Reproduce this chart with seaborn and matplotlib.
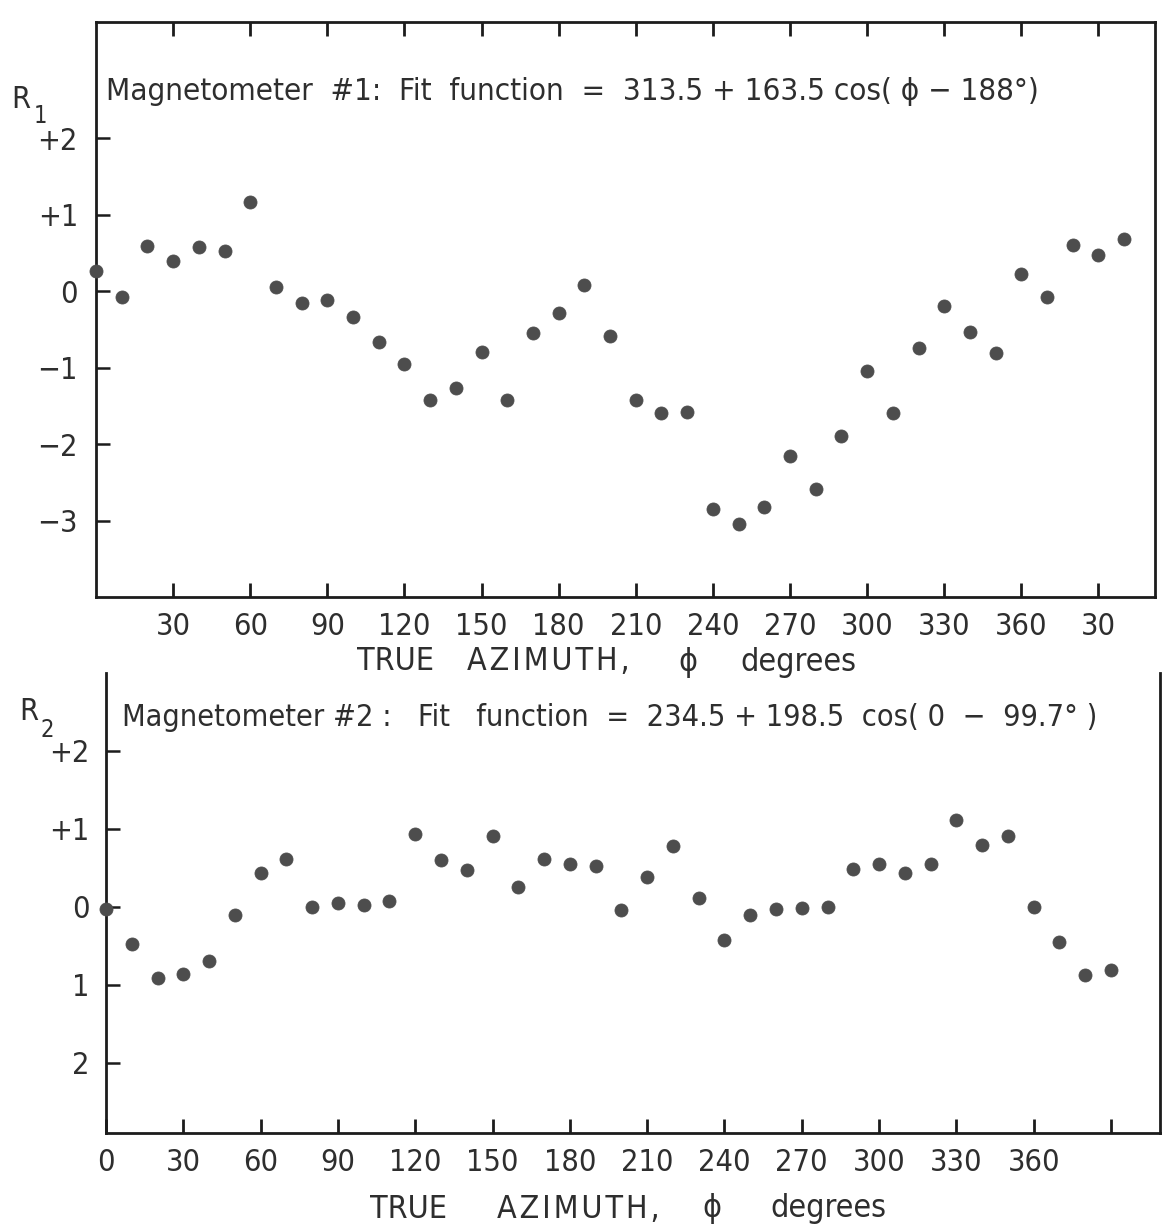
import numpy as np
import pandas as pd
import matplotlib
matplotlib.use("Agg")
import matplotlib.pyplot as plt
import seaborn as sns

# Magnetometer #1 residuals vs true azimuth (scan wraps past 360 up to 400)
azimuth_1 = [0, 10, 20, 30, 40, 50, 60, 70, 80, 90, 100, 110, 120, 130, 140,
             150, 160, 170, 180, 190, 200, 210, 220, 230, 240, 250, 260, 270,
             280, 290, 300, 310, 320, 330, 340, 350, 360, 370, 380, 390, 400]
r1 = [0.26, -0.08, 0.59, 0.40, 0.58, 0.53, 1.17, 0.05, -0.16, -0.12, -0.34,
      -0.67, -0.95, -1.43, -1.27, -0.80, -1.42, -0.55, -0.28, 0.08, -0.59,
      -1.42, -1.60, -1.58, -2.85, -3.04, -2.82, -2.16, -2.59, -1.89, -1.04,
      -1.59, -0.74, -0.19, -0.54, -0.81, 0.23, -0.07, 0.60, 0.47, 0.68]

# Magnetometer #2 residuals vs true azimuth
azimuth_2 = [0, 10, 20, 30, 40, 50, 60, 70, 80, 90, 100, 110, 120, 130, 140,
             150, 160, 170, 180, 190, 200, 210, 220, 230, 240, 250, 260, 270,
             280, 290, 300, 310, 320, 330, 340, 350, 360, 370, 380, 390]
r2 = [-0.03, -0.48, -0.91, -0.86, -0.70, -0.11, 0.44, 0.62, 0.00, 0.05, 0.02,
      0.08, 0.94, 0.60, 0.47, 0.91, 0.26, 0.61, 0.55, 0.53, -0.04, 0.38, 0.78,
      0.11, -0.42, -0.10, -0.03, -0.01, 0.00, 0.48, 0.55, 0.43, 0.55, 1.11,
      0.79, 0.91, 0.00, -0.45, -0.87, -0.81]

xticks_1 = [30, 60, 90, 120, 150, 180, 210, 240, 270, 300, 330, 360, 390]
xticklabels_1 = ["30", "60", "90", "120", "150", "180", "210", "240", "270",
                 "300", "330", "360", "30"]
xticks_2 = [0, 30, 60, 90, 120, 150, 180, 210, 240, 270, 300, 330, 360, 390]
xticklabels_2 = ["0", "30", "60", "90", "120", "150", "180", "210", "240",
                 "270", "300", "330", "360", ""]
yticks_1 = [2, 1, 0, -1, -2, -3]
yticklabels_1 = ["+2", "+1", "0", "\u22121", "\u22122", "\u22123"]
yticks_2 = [2, 1, 0, -1, -2]
yticklabels_2 = ["+2", "+1", "0", "1", "2"]

title_1 = "Magnetometer  #1:  Fit  function  =  313.5 + 163.5 cos( \u03d5 \u2212 188\u00b0)"
title_2 = "Magnetometer #2 :   Fit   function  =  234.5 + 198.5  cos( 0  \u2212  99.7\u00b0 )"

HAIR = "\u200a"
azimuth_word = HAIR.join("AZIMUTH,")

sns.set_theme(style="white")
plt.rcParams["font.family"] = ["DejaVu Sans"]
plt.rcParams["font.stretch"] = "condensed"

INK = "#2e2e2e"
DOT = "#4d4d4d"
W, H = 1163, 1229

fig = plt.figure(figsize=(W / 100, H / 100), dpi=100)


def rect(left, top, right, bottom):
    return [left / W, 1 - bottom / H, (right - left) / W, (bottom - top) / H]


def ftext(x, y, s, size, **kw):
    fig.text(x / W, 1 - y / H, s, fontsize=size, color=INK,
             va="center", fontstretch="condensed", **kw)


ax1 = fig.add_axes(rect(96, 22, 1155, 597))
ax2 = fig.add_axes(rect(106, 673, 1160, 1133))

df1 = pd.DataFrame({"azimuth": azimuth_1, "r": r1})
df2 = pd.DataFrame({"azimuth": azimuth_2, "r": r2})

for ax, df in ((ax1, df1), (ax2, df2)):
    sns.scatterplot(data=df, x="azimuth", y="r", ax=ax, s=88, color=DOT,
                    edgecolor=DOT, linewidth=0.6, clip_on=False, zorder=3)
    ax.set_xlabel("")
    ax.set_ylabel("")
    for sp in ax.spines.values():
        sp.set_color("#1c1c1c")
        sp.set_linewidth(2.0)

# upper panel: closed frame, ticks on bottom and top
ax1.set_xlim(0, 412)
ax1.set_ylim(-4.0, 3.52)
ax1.set_xticks(xticks_1)
ax1.set_xticklabels(xticklabels_1)
ax1.set_yticks(yticks_1)
ax1.set_yticklabels(yticklabels_1)
ax1.tick_params(axis="x", direction="in", length=10, width=2, top=True,
                bottom=True, labelsize=22, pad=11, colors="#1c1c1c",
                labelcolor=INK)
ax1.tick_params(axis="y", direction="in", length=10, width=1.8, left=True,
                right=False, labelsize=22, pad=13, colors="#1c1c1c",
                labelcolor=INK)

# lower panel: open at the top
ax2.set_xlim(0, 409)
ax2.set_ylim(-2.9, 3.0)
ax2.set_xticks(xticks_2)
ax2.set_xticklabels(xticklabels_2)
ax2.set_yticks(yticks_2)
ax2.set_yticklabels(yticklabels_2)
ax2.spines["top"].set_visible(False)
ax2.tick_params(axis="x", direction="in", length=10, width=2, top=False,
                bottom=True, labelsize=22, pad=11, colors="#1c1c1c",
                labelcolor=INK)
ax2.tick_params(axis="y", direction="in", length=10, width=1.8, left=True,
                right=False, labelsize=22, pad=12, colors="#1c1c1c",
                labelcolor=INK)

# fit-function captions
ftext(106, 92, title_1, 22.5, ha="left")
ftext(122, 717, title_2, 22, ha="left")

# axis symbols R1 / R2
ftext(11, 99, "R", 22, ha="left")
ftext(34, 116, "1", 17, ha="left")
ftext(19, 711, "R", 22, ha="left")
ftext(40, 730, "2", 17, ha="left")

# azimuth axis titles
for y0, parts in ((662, ((357, "TRUE"), (467, azimuth_word), (678, "\u03d5"), (740, "degrees"))),
                  (1209, ((370, "TRUE"), (497, azimuth_word), (702, "\u03d5"), (770, "degrees")))):
    for x0, word in parts:
        ftext(x0, y0, word, 23, ha="left")

fig.savefig("out.png", dpi=100, facecolor="white")
